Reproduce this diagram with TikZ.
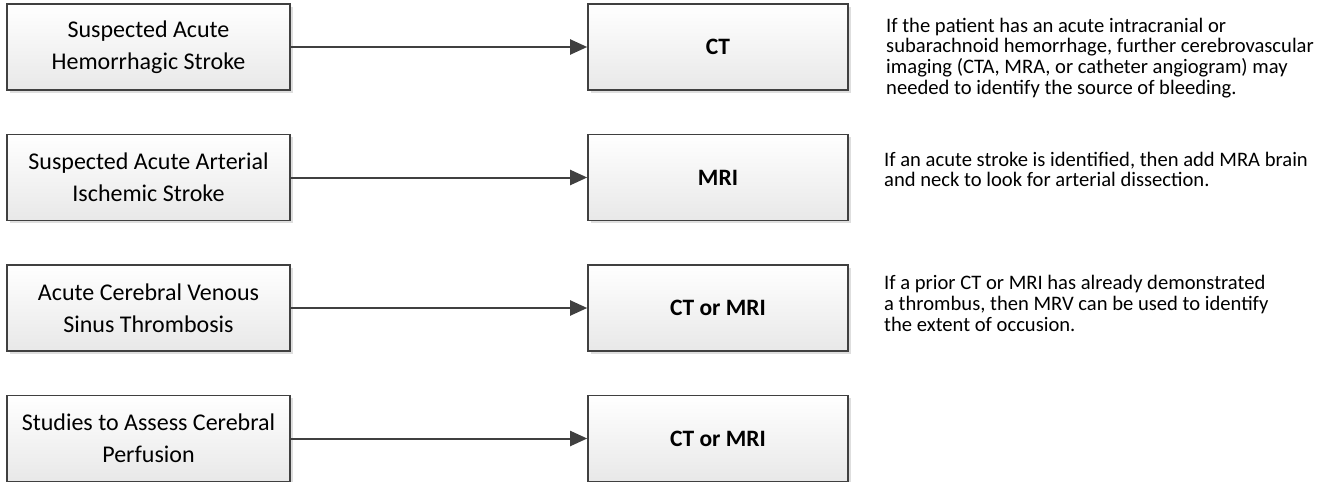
\documentclass[tikz,border=0pt]{standalone}
\usepackage{fontspec}
\setmainfont{Carlito}
\usetikzlibrary{shadows,arrows.meta}
\definecolor{edgegray}{HTML}{404040}
\tikzset{
  box/.style={draw=edgegray, line width=1.6pt, top color=white, bottom color=black!9,
    drop shadow={shadow xshift=2.5pt, shadow yshift=-2.5pt, fill=black!25, opacity=0.5},
    minimum height=86pt, inner sep=0pt, align=center},
  srcbox/.style={box, minimum width=283pt, font=\fontsize{24}{32}\selectfont},
  dstbox/.style={box, minimum width=260pt, font=\bfseries\fontsize{23.5}{28}\selectfont},
  link/.style={draw=edgegray, line width=2pt, -{Triangle[length=17pt,width=15pt]}},
  note/.style={anchor=west, align=left, inner sep=0pt, font=\fontsize{20.6}{20.8}\selectfont, text=black}
}
\begin{document}
\begin{tikzpicture}[x=1pt,y=-1pt]
\useasboundingbox[fill=white] (0,0) rectangle (1339,482);

\node[srcbox] (s1) at (148.5,47) {Suspected Acute\\Hemorrhagic Stroke};
\node[srcbox] (s2) at (148.5,177.5) {Suspected Acute Arterial\\Ischemic Stroke};
\node[srcbox] (s3) at (148.5,308) {Acute Cerebral Venous\\Sinus Thrombosis};
\node[srcbox] (s4) at (148.5,438.5) {Studies to Assess Cerebral\\Perfusion};

\node[dstbox] (d1) at (718,47) {CT};
\node[dstbox] (d2) at (718,177.5) {MRI};
\node[dstbox] (d3) at (718,308) {CT or MRI};
\node[dstbox] (d4) at (718,438.5) {CT or MRI};

\draw[link] (s1) -- (d1);
\draw[link] (s2) -- (d2);
\draw[link] (s3) -- (d3);
\draw[link] (s4) -- (d4);

\node[note] (n1) at (886,58) {If the patient has an acute intracranial or\\subarachnoid hemorrhage, further cerebrovascular\\imaging (CTA, MRA, or catheter angiogram) may\\needed to identify the source of bleeding.};
\node[note] (n2) at (884,169.5) {If an acute stroke is identified, then add MRA brain\\and neck to look for arterial dissection.};
\node[note] (n3) at (884,303.5) {If a prior CT or MRI has already demonstrated\\a thrombus, then MRV can be used to identify\\the extent of occusion.};
\end{tikzpicture}
\end{document}
